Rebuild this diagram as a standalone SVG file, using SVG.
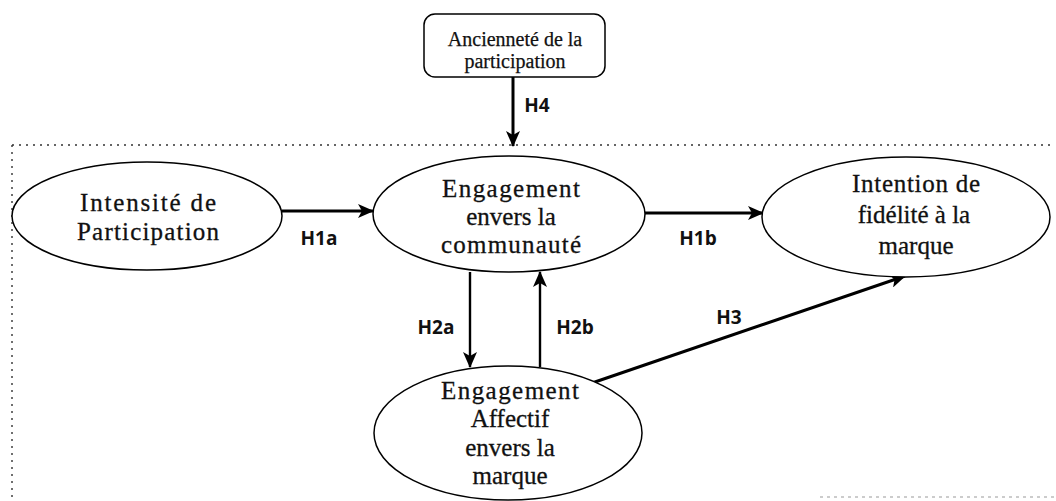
<svg xmlns="http://www.w3.org/2000/svg" width="1056" height="501" viewBox="0 0 1056 501">
<style>
.node{fill:#ffffff;stroke:#000;stroke-width:1.5}
.t{font-family:"Liberation Serif","Times New Roman",serif;font-size:25px;fill:#111;stroke:#111;stroke-width:0.3;text-anchor:middle}
.ts{font-family:"Liberation Serif","Times New Roman",serif;font-size:20px;fill:#111;stroke:#111;stroke-width:0.25;text-anchor:middle}
.lbl{font-family:"Open Sans","Liberation Sans",Arial,sans-serif;font-weight:bold;font-size:19px;fill:#111;text-anchor:middle}
.arr{stroke:#000;stroke-width:3;fill:none;marker-end:url(#ah)}
.arr2{stroke:#000;stroke-width:2.4;fill:none;marker-end:url(#ah)}
.frame{stroke:#333;stroke-width:1.4;fill:none;stroke-dasharray:2 5}
</style>
<defs>
<marker id="ah" markerUnits="userSpaceOnUse" markerWidth="16" markerHeight="14" viewBox="0 0 16 14" refX="15" refY="7" orient="auto">
<path d="M0,0 L16,7 L0,14 L4,7 Z" fill="#000"/>
</marker>
</defs>
<rect width="1056" height="501" fill="#fff"/>
<g id="frame">
<path class="frame" d="M12,145 H1054"/>
<path class="frame" d="M12,145 V498"/>
<path d="M820,497 H1056" stroke="#999" stroke-width="1.2" stroke-dasharray="3 4" fill="none"/>
</g>
<g id="connectors">
<line class="arr" x1="513" y1="77" x2="513" y2="146"/>
<line class="arr" x1="282" y1="211" x2="373" y2="211"/>
<line class="arr" x1="645" y1="213" x2="763" y2="213"/>
<line class="arr2" x1="470" y1="272" x2="470" y2="367"/>
<line class="arr2" x1="540" y1="367" x2="540" y2="272"/>
<line class="arr" x1="592" y1="383" x2="905" y2="276"/>
<text class="lbl" x="537" y="112">H4</text>
<text class="lbl" x="319" y="245">H1a</text>
<text class="lbl" x="698" y="245">H1b</text>
<text class="lbl" x="436" y="334">H2a</text>
<text class="lbl" x="575" y="334">H2b</text>
<text class="lbl" x="729" y="324">H3</text>
</g>
<g id="anciennete">
<rect class="node" x="424" y="14" width="181" height="63" rx="11"/>
<text class="ts" x="515" y="46">Ancienneté de la</text>
<text class="ts" x="515" y="68">participation</text>
</g>
<g id="intensite">
<ellipse class="node" cx="147" cy="216" rx="135" ry="54"/>
<text class="t" x="148" y="211" textLength="136">Intensité de</text>
<text class="t" x="148" y="240" textLength="142">Participation</text>
</g>
<g id="engagement-communaute">
<ellipse class="node" cx="509" cy="214" rx="136" ry="58"/>
<text class="t" x="511" y="197" textLength="138">Engagement</text>
<text class="t" x="511" y="225">envers la</text>
<text class="t" x="511" y="253" textLength="140">communauté</text>
</g>
<g id="intention-fidelite">
<ellipse class="node" cx="906" cy="217" rx="144" ry="60"/>
<text class="t" x="916" y="192" textLength="128">Intention de</text>
<text class="t" x="914" y="223">fidélité à la</text>
<text class="t" x="916" y="254">marque</text>
</g>
<g id="engagement-affectif">
<ellipse class="node" cx="508" cy="433" rx="134" ry="67"/>
<text class="t" x="510" y="399" textLength="138">Engagement</text>
<text class="t" x="510" y="427">Affectif</text>
<text class="t" x="510" y="456">envers la</text>
<text class="t" x="510" y="484">marque</text>
</g>
</svg>
